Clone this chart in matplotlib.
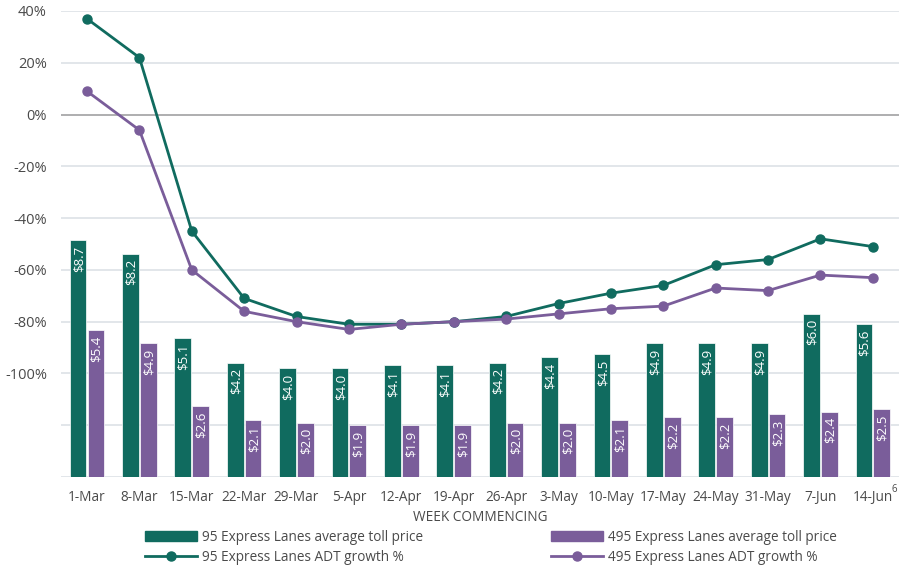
import numpy as np
import matplotlib
matplotlib.use("Agg")
import matplotlib.pyplot as plt
from matplotlib.patches import Patch
from matplotlib.lines import Line2D

weeks = ["1-Mar", "8-Mar", "15-Mar", "22-Mar", "29-Mar", "5-Apr", "12-Apr", "19-Apr",
         "26-Apr", "3-May", "10-May", "17-May", "24-May", "31-May", "7-Jun", "14-Jun"]
toll_95 = [8.7, 8.2, 5.1, 4.2, 4.0, 4.0, 4.1, 4.1, 4.2, 4.4, 4.5, 4.9, 4.9, 4.9, 6.0, 5.6]
toll_495 = [5.4, 4.9, 2.6, 2.1, 2.0, 1.9, 1.9, 1.9, 2.0, 2.0, 2.1, 2.2, 2.2, 2.3, 2.4, 2.5]
growth_95 = [37, 22, -45, -71, -78, -81, -81, -80, -78, -73, -69, -66, -58, -56, -48, -51]
growth_495 = [9, -6, -60, -76, -80, -83, -81, -80, -79, -77, -75, -74, -67, -68, -62, -63]
pct_ticks = [40, 20, 0, -20, -40, -60, -80, -100]

GREEN = "#106b5f"
PURPLE = "#7a5d9a"
GRID = "#dde1e6"
TXT = "#4a4a4a"

plt.rcParams["font.family"] = ["Open Sans", "DejaVu Sans"]

fig = plt.figure(figsize=(9.13, 5.66), dpi=100)
ax_bar = fig.add_axes([0.0666, 0.1572, 0.9181, 0.8234])
ax = ax_bar.twinx()

x = np.arange(len(weeks))
w = 0.32

# bars on the hidden dollar axis (0 at -140%, top at 40%)
dollar_top = 17.1
ax_bar.set_ylim(0, dollar_top)
ax_bar.set_xlim(-0.5, len(weeks) - 0.5)
ax_bar.set_yticks(np.linspace(0, dollar_top, 10))
ax_bar.grid(axis="y", color=GRID, lw=1.2)
ax_bar.set_axisbelow(True)
ax_bar.tick_params(axis="y", left=False, right=False, labelleft=False)
b1 = ax_bar.bar(x - w / 2 - 0.01, toll_95, w, color=GREEN, edgecolor="white", lw=0.5)
b2 = ax_bar.bar(x + w / 2 + 0.01, toll_495, w, color=PURPLE, edgecolor="white", lw=0.5)
for bars, vals in ((b1, toll_95), (b2, toll_495)):
    for rect, v in zip(bars, vals):
        ax_bar.annotate(rf"\${v:.1f}", (rect.get_x() + rect.get_width() / 2, v),
                        xytext=(0.5, -4), textcoords="offset points", rotation=90,
                        ha="center", va="top", color="white", fontsize=9.5)

ax_bar.set_xticks(x)
ax_bar.set_xticklabels(weeks, fontsize=9.8, color=TXT)
ax_bar.tick_params(axis="x", length=0, pad=9)
ax_bar.set_xlabel("WEEK COMMENCING", fontsize=9.8, color=TXT, labelpad=4)

# growth lines on percent axis
ax.set_ylim(-140, 40)
ax.axhline(0, color="#a6a6a6", lw=1.2, zorder=1)
ax.plot(x, growth_95, color=GREEN, lw=2, marker="o", ms=6.5, zorder=3)
ax.plot(x, growth_495, color=PURPLE, lw=2, marker="o", ms=6.5, zorder=3)
ax.yaxis.tick_left()
ax.set_yticks(pct_ticks)
ax.set_yticklabels([f"{t}%" for t in pct_ticks], fontsize=10.5, color=TXT)
ax.tick_params(axis="y", length=0, pad=10)

for a in (ax, ax_bar):
    for s in a.spines.values():
        s.set_visible(False)

fig.text(894 / 913, 1 - 489 / 566, "6", fontsize=7, color=TXT, ha="center", va="center")

handles = [Patch(color=GREEN),
           Line2D([], [], color=GREEN, lw=2, marker="o", ms=6.5),
           Patch(color=PURPLE),
           Line2D([], [], color=PURPLE, lw=2, marker="o", ms=6.5)]
labels = ["95 Express Lanes average toll price", "95 Express Lanes ADT growth %",
          "495 Express Lanes average toll price", "495 Express Lanes ADT growth %"]
leg = fig.legend(handles, labels, ncol=2, loc="upper left",
                 bbox_to_anchor=(145 / 913, 1 - 530 / 566), frameon=False,
                 fontsize=9.8, handlelength=3.8, handletextpad=0.37,
                 columnspacing=9.4, labelspacing=0.35, borderpad=0, borderaxespad=0)
for t in leg.get_texts():
    t.set_color(TXT)

fig.savefig("out.png", dpi=100)
